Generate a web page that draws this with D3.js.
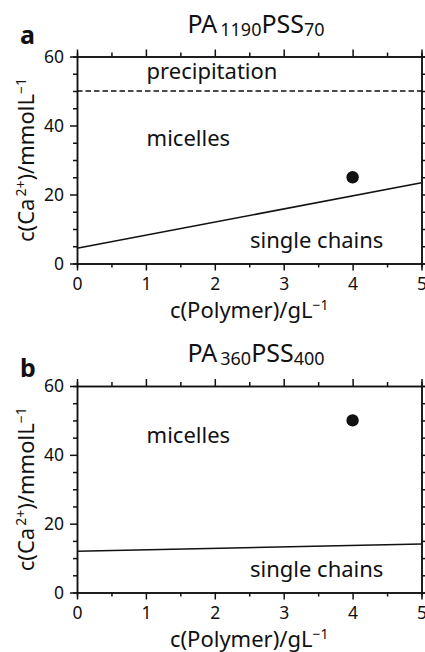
<!DOCTYPE html>
<meta charset="utf-8">
<style>
body { margin: 0; background: #fff; }
svg { display: block; font-family: "Noto Sans", sans-serif; }
.axis path, .axis line { stroke: #111; stroke-width: 1.5; }
.axis text { font-size: 17.5px; fill: #111; font-family: "Noto Sans", sans-serif; }
.lbl { font-size: 22px; fill: #111; }
</style>
<svg width="425" height="652"></svg>
<script src="https://d3js.org/d3.v7.min.js"></script>
<script>

// values
var xDomain = [0, 5];
var yDomain = [0, 60];
var xMajor = [0, 1, 2, 3, 4, 5];
var xMinor = [0.5, 1.5, 2.5, 3.5, 4.5];
var yMajor = [0, 20, 40, 60];
var yMinor = [5, 10, 15, 25, 30, 35, 45, 50, 55];

var boundaryX = [0, 5];
var boundaryA = [4.4, 23.4];
var boundaryB = [12, 14.1];
var precipA = 50;
var pointA = [4, 25];
var pointB = [4, 50];

var svg = d3.select("svg");

var x = d3.scaleLinear().domain(xDomain).range([77, 421.5]);

function panel(top, bottom, letter, letterY, sub1, sub2, line, point, regions, precip) {
  var y = d3.scaleLinear().domain(yDomain).range([bottom, top]);
  var g = svg.append("g");

  // minor ticks
  g.append("g").attr("class", "axis").attr("transform", "translate(0," + bottom + ")")
    .call(d3.axisBottom(x).tickValues(xMinor).tickSize(4).tickFormat(""));
  g.append("g").attr("class", "axis").attr("transform", "translate(0," + top + ")")
    .call(d3.axisTop(x).tickValues(xMinor).tickSize(4).tickFormat(""));
  g.append("g").attr("class", "axis").attr("transform", "translate(77,0)")
    .call(d3.axisLeft(y).tickValues(yMinor).tickSize(4).tickFormat(""));
  g.append("g").attr("class", "axis").attr("transform", "translate(" + x(5) + ",0)")
    .call(d3.axisRight(y).tickValues(yMinor).tickSize(4).tickFormat(""));

  // major ticks
  g.append("g").attr("class", "axis").attr("transform", "translate(0," + bottom + ")")
    .call(d3.axisBottom(x).tickValues(xMajor).tickSize(7).tickSizeOuter(0).tickPadding(7).tickFormat(d3.format("d")));
  g.append("g").attr("class", "axis").attr("transform", "translate(0," + top + ")")
    .call(d3.axisTop(x).tickValues(xMajor).tickSize(7).tickSizeOuter(0).tickFormat(""));
  g.append("g").attr("class", "axis").attr("transform", "translate(77,0)")
    .call(d3.axisLeft(y).tickValues(yMajor).tickSize(7).tickSizeOuter(0).tickPadding(6).tickFormat(d3.format("d")));
  g.append("g").attr("class", "axis").attr("transform", "translate(" + x(5) + ",0)")
    .call(d3.axisRight(y).tickValues(yMajor).tickSize(7).tickSizeOuter(0).tickFormat(""));

  if (precip != null) {
    g.append("line")
      .attr("x1", x(0)).attr("x2", x(5))
      .attr("y1", y(precip)).attr("y2", y(precip))
      .attr("stroke", "#111").attr("stroke-width", 1.5)
      .attr("stroke-dasharray", "5.5,3");
  }

  var lineGen = d3.line().x(function(d) { return x(d[0]); }).y(function(d) { return y(d[1]); });
  g.append("path")
    .datum(boundaryX.map(function(v, i) { return [v, line[i]]; }))
    .attr("d", lineGen)
    .attr("fill", "none").attr("stroke", "#111").attr("stroke-width", 1.6);

  g.append("circle")
    .attr("cx", x(point[0])).attr("cy", y(point[1])).attr("r", 6.2)
    .attr("fill", "#111");

  regions.forEach(function(r) {
    g.append("text").attr("class", "lbl")
      .attr("x", x(r[1])).attr("y", y(r[2]))
      .text(r[0]);
  });

  // title
  var t = g.append("text").attr("x", 256).attr("y", top - 24)
    .attr("text-anchor", "middle").attr("font-size", 25).attr("fill", "#111");
  t.append("tspan").text("PA");
  t.append("tspan").attr("dx", 3).attr("dy", 3).attr("font-size", 18).text(sub1);
  t.append("tspan").attr("dy", -3).text("PSS");
  t.append("tspan").attr("dy", 3).attr("font-size", 18).text(sub2);

  g.append("text").attr("x", 20).attr("y", letterY)
    .attr("font-size", 25).attr("font-weight", "bold").attr("fill", "#111")
    .text(letter);

  // x label
  var xl = g.append("text").attr("class", "lbl").attr("x", x(2.5)).attr("y", bottom + 54.5)
    .attr("text-anchor", "middle");
  xl.append("tspan").text("c(Polymer)/gL");
  xl.append("tspan").attr("dy", -8).attr("font-size", 14).text("\u22121");

  // y label
  var yl = g.append("text").attr("class", "lbl")
    .attr("transform", "translate(33.5," + ((top + bottom) / 2) + ") rotate(-90)")
    .attr("text-anchor", "middle");
  yl.append("tspan").text("c(Ca");
  yl.append("tspan").attr("dy", -8).attr("dx", 2).attr("font-size", 14).text("2+");
  yl.append("tspan").attr("dy", 8).text(")/mmolL");
  yl.append("tspan").attr("dy", -8).attr("font-size", 14).text("\u22121");
}

panel(56.5, 263.5, "a", 43.5, "1190", "70", boundaryA, pointA,
  [["precipitation", 1.01, 53.5], ["micelles", 1.01, 34.1], ["single chains", 2.51, 4.4]], precipA);

panel(386, 592.5, "b", 376.5, "360", "400", boundaryB, pointB,
  [["micelles", 1.01, 43.4], ["single chains", 2.51, 4.6]], null);

</script>
